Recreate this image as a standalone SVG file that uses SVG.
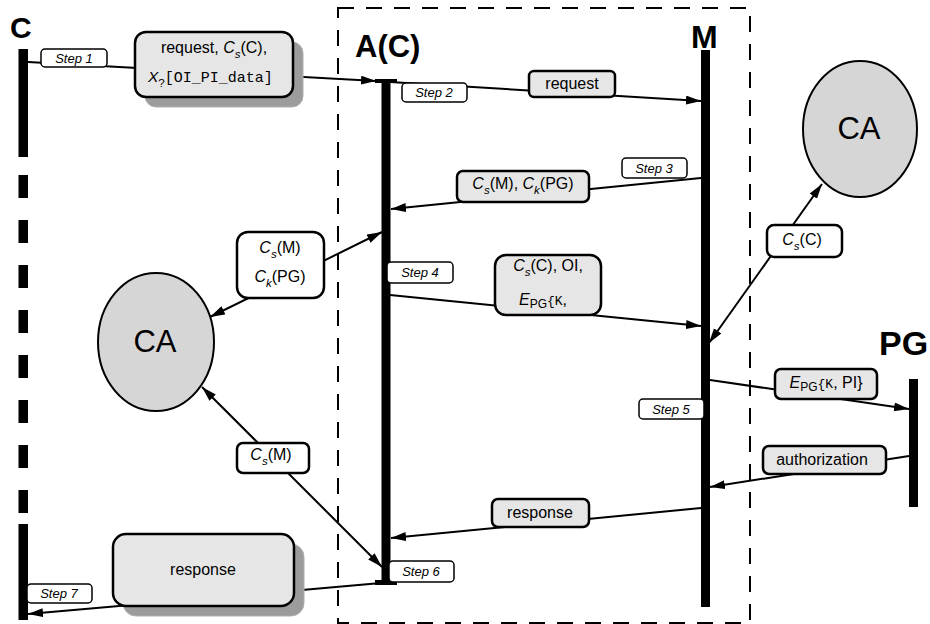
<svg xmlns="http://www.w3.org/2000/svg" width="930" height="624" viewBox="0 0 930 624">
<style>
text{font-family:"Liberation Sans",Arial,sans-serif;fill:#000}
.msg{font-size:16px;text-anchor:middle}
.step{font-size:13px;font-style:italic;text-anchor:middle}
.title{font-weight:bold}
.ca{font-size:31px;text-anchor:middle}
.mono{font-family:"Liberation Mono","Courier New",monospace}
.it{font-style:italic}
.sub{font-size:11.5px}
.stepbox{fill:#fff;stroke:#000;stroke-width:1.5}
.gbox{fill:#e6e6e6;stroke:#000;stroke-width:2.5}
.wbox{fill:#fff;stroke:#000;stroke-width:2.5}
.shadow{fill:#9c9c9c;stroke:#b0b0b0;stroke-width:1}
.ell{fill:#d6d6d6;stroke:#000;stroke-width:2}
.conn line{stroke:#000;stroke-width:2;fill:none}
.life{fill:#000}
</style>
<defs>
<marker id="ah" markerUnits="userSpaceOnUse" markerWidth="16" markerHeight="10" refX="15" refY="4.5" orient="auto-start-reverse">
<path d="M0,0 L15,4.5 L0,9 z" fill="#000"/>
</marker>
</defs>

<!-- dashed boundary of A(C)/M -->
<rect x="338" y="8" width="412" height="615" fill="none" stroke="#000" stroke-width="2" stroke-dasharray="16 12"/>

<!-- connectors -->
<g id="connectors" class="conn">
<line x1="28" y1="62" x2="376" y2="81" marker-end="url(#ah)"/>
<line x1="390" y1="82" x2="701" y2="101" marker-end="url(#ah)"/>
<line x1="701" y1="178" x2="391" y2="209" marker-end="url(#ah)"/>
<line x1="210" y1="317" x2="382" y2="232" marker-start="url(#ah)" marker-end="url(#ah)"/>
<line x1="390" y1="295" x2="701" y2="326" marker-end="url(#ah)"/>
<line x1="822" y1="184" x2="709" y2="343" marker-start="url(#ah)" marker-end="url(#ah)"/>
<line x1="710" y1="380" x2="909" y2="409" marker-end="url(#ah)"/>
<line x1="909" y1="456" x2="710" y2="487" marker-end="url(#ah)"/>
<line x1="701" y1="508" x2="391" y2="538" marker-end="url(#ah)"/>
<line x1="202" y1="387" x2="382" y2="567" marker-start="url(#ah)" marker-end="url(#ah)"/>
<line x1="381" y1="583" x2="28" y2="614" marker-end="url(#ah)"/>
</g>

<!-- C lifeline -->
<g id="C">
<text class="title" x="10" y="38" font-size="30">C</text>
<rect class="life" x="18.5" y="49" width="9.5" height="108"/>
<rect class="life" x="18.5" y="175" width="9.5" height="23"/>
<rect class="life" x="18.5" y="220" width="9.5" height="23"/>
<rect class="life" x="18.5" y="265" width="9.5" height="23"/>
<rect class="life" x="18.5" y="310" width="9.5" height="23"/>
<rect class="life" x="18.5" y="355" width="9.5" height="23"/>
<rect class="life" x="18.5" y="400" width="9.5" height="23"/>
<rect class="life" x="18.5" y="445" width="9.5" height="23"/>
<rect class="life" x="18.5" y="490" width="9.5" height="23"/>
<rect class="life" x="18.5" y="524" width="9.5" height="96"/>
</g>

<!-- A(C) lifeline -->
<g id="AC">
<text class="title" x="355" y="57" font-size="31">A(C)</text>
<rect class="life" x="381.5" y="80" width="9" height="504"/>
<rect class="life" x="375" y="79" width="22" height="4"/>
<rect class="life" x="375" y="580" width="22" height="5"/>
</g>

<!-- M lifeline -->
<g id="M">
<text class="title" x="691" y="48" font-size="32">M</text>
<rect class="life" x="701" y="50" width="9" height="557"/>
</g>

<!-- PG lifeline -->
<g id="PG">
<text class="title" x="879" y="355" font-size="34">PG</text>
<rect class="life" x="909" y="379" width="9" height="128"/>
</g>

<!-- CA nodes -->
<g id="CA-left">
<ellipse class="ell" cx="156" cy="342" rx="58" ry="69"/>
<text class="ca" x="155" y="352">CA</text>
</g>
<g id="CA-right">
<ellipse class="ell" cx="860" cy="129" rx="57" ry="68"/>
<text class="ca" x="859" y="139">CA</text>
</g>

<!-- message 1 -->
<g id="msg-request-1">
<rect class="shadow" x="145" y="42" width="158" height="65" rx="11"/>
<rect class="gbox" x="135" y="32" width="158" height="65" rx="11"/>
<text class="msg" x="214" y="53" font-size="15.5">request, <tspan class="it">C</tspan><tspan class="it sub" dy="5">s</tspan><tspan dy="-5">(C),</tspan></text>
<text x="148" y="82" font-size="15.5"><tspan class="it">X</tspan><tspan class="sub" font-size="10" dy="5">?</tspan><tspan class="mono" font-size="15" dy="-5">[OI_PI_data]</tspan></text>
</g>

<g id="msg-request-2">
<rect class="gbox" x="529" y="71" width="86" height="26" rx="5"/>
<text class="msg" x="572" y="89">request</text>
</g>

<g id="msg-cert-m">
<rect class="gbox" x="457" y="171" width="132" height="31" rx="6"/>
<text class="msg" x="523" y="189"><tspan class="it">C</tspan><tspan class="it sub" dy="5">s</tspan><tspan dy="-5">(M), </tspan><tspan class="it">C</tspan><tspan class="it sub" dy="5">k</tspan><tspan dy="-5">(PG)</tspan></text>
</g>

<g id="msg-cert-left">
<rect class="wbox" x="237" y="232" width="87" height="66" rx="11"/>
<text class="msg" x="280" y="253"><tspan class="it">C</tspan><tspan class="it sub" dy="5">s</tspan><tspan dy="-5">(M)</tspan></text>
<text class="msg" x="280" y="282"><tspan class="it">C</tspan><tspan class="it sub" dy="5">k</tspan><tspan dy="-5">(PG)</tspan></text>
</g>

<g id="msg-oi">
<rect class="gbox" x="495" y="255" width="106" height="60" rx="11"/>
<text class="msg" x="548" y="271"><tspan class="it">C</tspan><tspan class="it sub" dy="5">s</tspan><tspan dy="-5">(C), OI,</tspan></text>
<text class="msg" x="543" y="305"><tspan class="it">E</tspan><tspan font-size="12" dy="3">PG</tspan><tspan class="mono" font-size="13" dy="-3">{K</tspan>,</text>
</g>

<g id="msg-cert-right">
<rect class="wbox" x="767" y="225" width="75" height="32" rx="7"/>
<text class="msg" x="802" y="245"><tspan class="it">C</tspan><tspan class="it sub" dy="5">s</tspan><tspan dy="-5">(C)</tspan></text>
</g>

<g id="msg-epg">
<rect class="gbox" x="775" y="369" width="102" height="30" rx="6"/>
<text class="msg" x="826" y="388"><tspan class="it">E</tspan><tspan font-size="12" dy="3">PG</tspan><tspan class="mono" font-size="13" dy="-3">{K</tspan>, PI}</text>
</g>

<g id="msg-auth">
<rect class="gbox" x="763" y="446" width="123" height="28" rx="6"/>
<text class="msg" x="822" y="465">authorization</text>
</g>

<g id="msg-response-1">
<rect class="gbox" x="492" y="499" width="97" height="28" rx="6"/>
<text class="msg" x="540" y="518">response</text>
</g>

<g id="msg-cert-lower">
<rect class="wbox" x="237" y="443" width="72" height="30" rx="6"/>
<text class="msg" x="271" y="460"><tspan class="it">C</tspan><tspan class="it sub" dy="5">s</tspan><tspan dy="-5">(M)</tspan></text>
</g>

<g id="msg-response-2">
<rect class="shadow" x="123" y="544" width="181" height="72" rx="13"/>
<rect class="gbox" x="113" y="534" width="181" height="72" rx="13"/>
<text class="msg" x="203" y="575">response</text>
</g>

<!-- step labels -->
<g id="step1"><rect class="stepbox" x="41" y="49" width="66" height="18" rx="4"/><text class="step" x="74" y="62.5">Step 1</text></g>
<g id="step2"><rect class="stepbox" x="402" y="83" width="65" height="19" rx="4"/><text class="step" x="434" y="97">Step 2</text></g>
<g id="step3"><rect class="stepbox" x="622" y="158" width="65" height="20" rx="4"/><text class="step" x="654" y="172.5">Step 3</text></g>
<g id="step4"><rect class="stepbox" x="387" y="262" width="66" height="21" rx="4"/><text class="step" x="420" y="277">Step 4</text></g>
<g id="step5"><rect class="stepbox" x="639" y="399" width="65" height="20" rx="4"/><text class="step" x="671" y="413.5">Step 5</text></g>
<g id="step6"><rect class="stepbox" x="389" y="561" width="65" height="21" rx="4"/><text class="step" x="421" y="576">Step 6</text></g>
<g id="step7"><rect class="stepbox" x="27" y="584" width="65" height="19" rx="4"/><text class="step" x="59" y="598">Step 7</text></g>
</svg>
